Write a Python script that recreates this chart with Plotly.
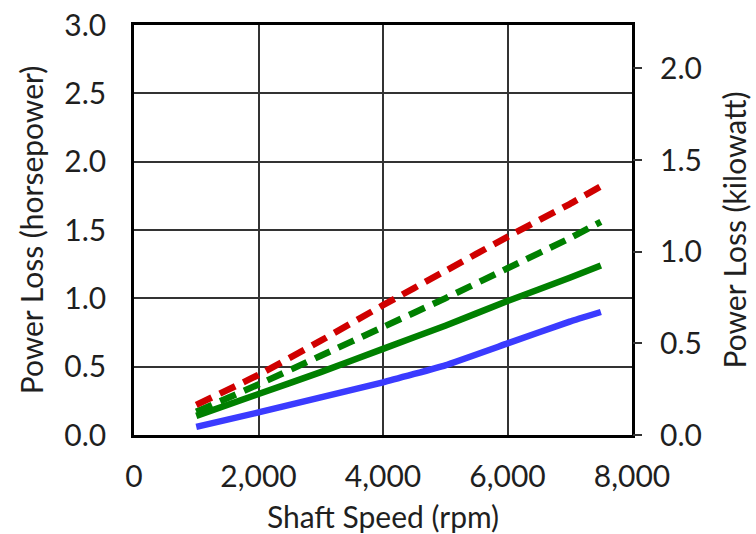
import plotly.graph_objects as go

# Data
shaft_speed_rpm = [1000, 2000, 3000, 4000, 5000, 6000, 7000, 7500]
red_dashed_hp = [0.22, 0.44, 0.69, 0.95, 1.20, 1.45, 1.69, 1.82]
green_dashed_hp = [0.17, 0.37, 0.58, 0.79, 1.00, 1.22, 1.44, 1.56]
green_solid_hp = [0.14, 0.30, 0.46, 0.63, 0.80, 0.98, 1.15, 1.24]
blue_solid_hp = [0.06, 0.165, 0.275, 0.385, 0.51, 0.67, 0.83, 0.90]

x_ticks = [0, 2000, 4000, 6000, 8000]
hp_ticks = [0.0, 0.5, 1.0, 1.5, 2.0, 2.5, 3.0]
kw_ticks = [0.0, 0.5, 1.0, 1.5, 2.0]
HP_TO_KW = 0.745699872
HP_MAX = 3.0

FONT = "Lato, 'Open Sans', sans-serif"
TXT = "#1f1f1f"
FS = 30

fig = go.Figure()

series = [
    (blue_solid_hp, "#3b3bff", "solid"),
    (green_solid_hp, "#008000", "solid"),
    (green_dashed_hp, "#008000", "17px,9px"),
    (red_dashed_hp, "#d00000", "17px,9px"),
]
for ys, col, dash in series:
    fig.add_trace(go.Scatter(
        x=shaft_speed_rpm, y=ys, mode="lines",
        line=dict(color=col, width=6.5, dash=dash, shape="spline", smoothing=0.3),
        showlegend=False, hoverinfo="x+y",
    ))

# invisible trace bound to the kilowatt axis so it is drawn
fig.add_trace(go.Scatter(
    x=shaft_speed_rpm, y=[v * HP_TO_KW for v in blue_solid_hp],
    yaxis="y2", mode="lines", line=dict(width=0), opacity=0,
    showlegend=False, hoverinfo="skip",
))

fig.update_layout(
    width=756, height=534,
    margin=dict(l=134, r=124, t=25, b=99, autoexpand=False),
    paper_bgcolor="white", plot_bgcolor="white",
    font=dict(family=FONT, size=FS, color=TXT),
    xaxis=dict(
        range=[0, 8000], tickvals=x_ticks,
        ticktext=[f"{v:,}" for v in x_ticks],
        showgrid=True, gridcolor="#333333", gridwidth=1.5,
        zeroline=False, showline=True, mirror=True,
        linecolor="black", linewidth=2.5, ticks="",
        ticklabelstandoff=13, automargin=False, ticklabeloverflow="allow",
        title=dict(text="Shaft Speed (rpm)", standoff=16,
                   font=dict(size=FS, family=FONT, color=TXT)),
        tickfont=dict(size=FS, family=FONT, color=TXT),
    ),
    yaxis=dict(
        range=[0, HP_MAX], tickvals=hp_ticks,
        ticktext=[f"{v:.1f}" for v in hp_ticks],
        showgrid=True, gridcolor="#333333", gridwidth=1.5,
        zeroline=False, showline=True, mirror=True,
        linecolor="black", linewidth=2.5, ticks="",
        ticklabelstandoff=19, automargin=False, ticklabeloverflow="allow",
        title=dict(text="Power Loss (horsepower)", standoff=12,
                   font=dict(size=FS, family=FONT, color=TXT)),
        tickfont=dict(size=FS, family=FONT, color=TXT),
    ),
    yaxis2=dict(
        range=[0, HP_MAX * HP_TO_KW], tickvals=kw_ticks,
        ticktext=[f"{v:.1f}" for v in kw_ticks],
        overlaying="y", side="right", anchor="x",
        showgrid=False, zeroline=False, showline=False,
        ticks="outside", ticklen=9, tickwidth=1.5, tickcolor="#333333",
        ticklabelstandoff=12, automargin=False, ticklabeloverflow="allow",
        title=dict(text="Power Loss (kilowatt)", standoff=24,
                   font=dict(size=FS, family=FONT, color=TXT)),
        tickfont=dict(size=FS, family=FONT, color=TXT),
    ),
)

fig.write_html(
    "out.html",
    config={"displayModeBar": False},
    post_script="document.body.style.margin='0';document.body.style.overflow='hidden';",
)
